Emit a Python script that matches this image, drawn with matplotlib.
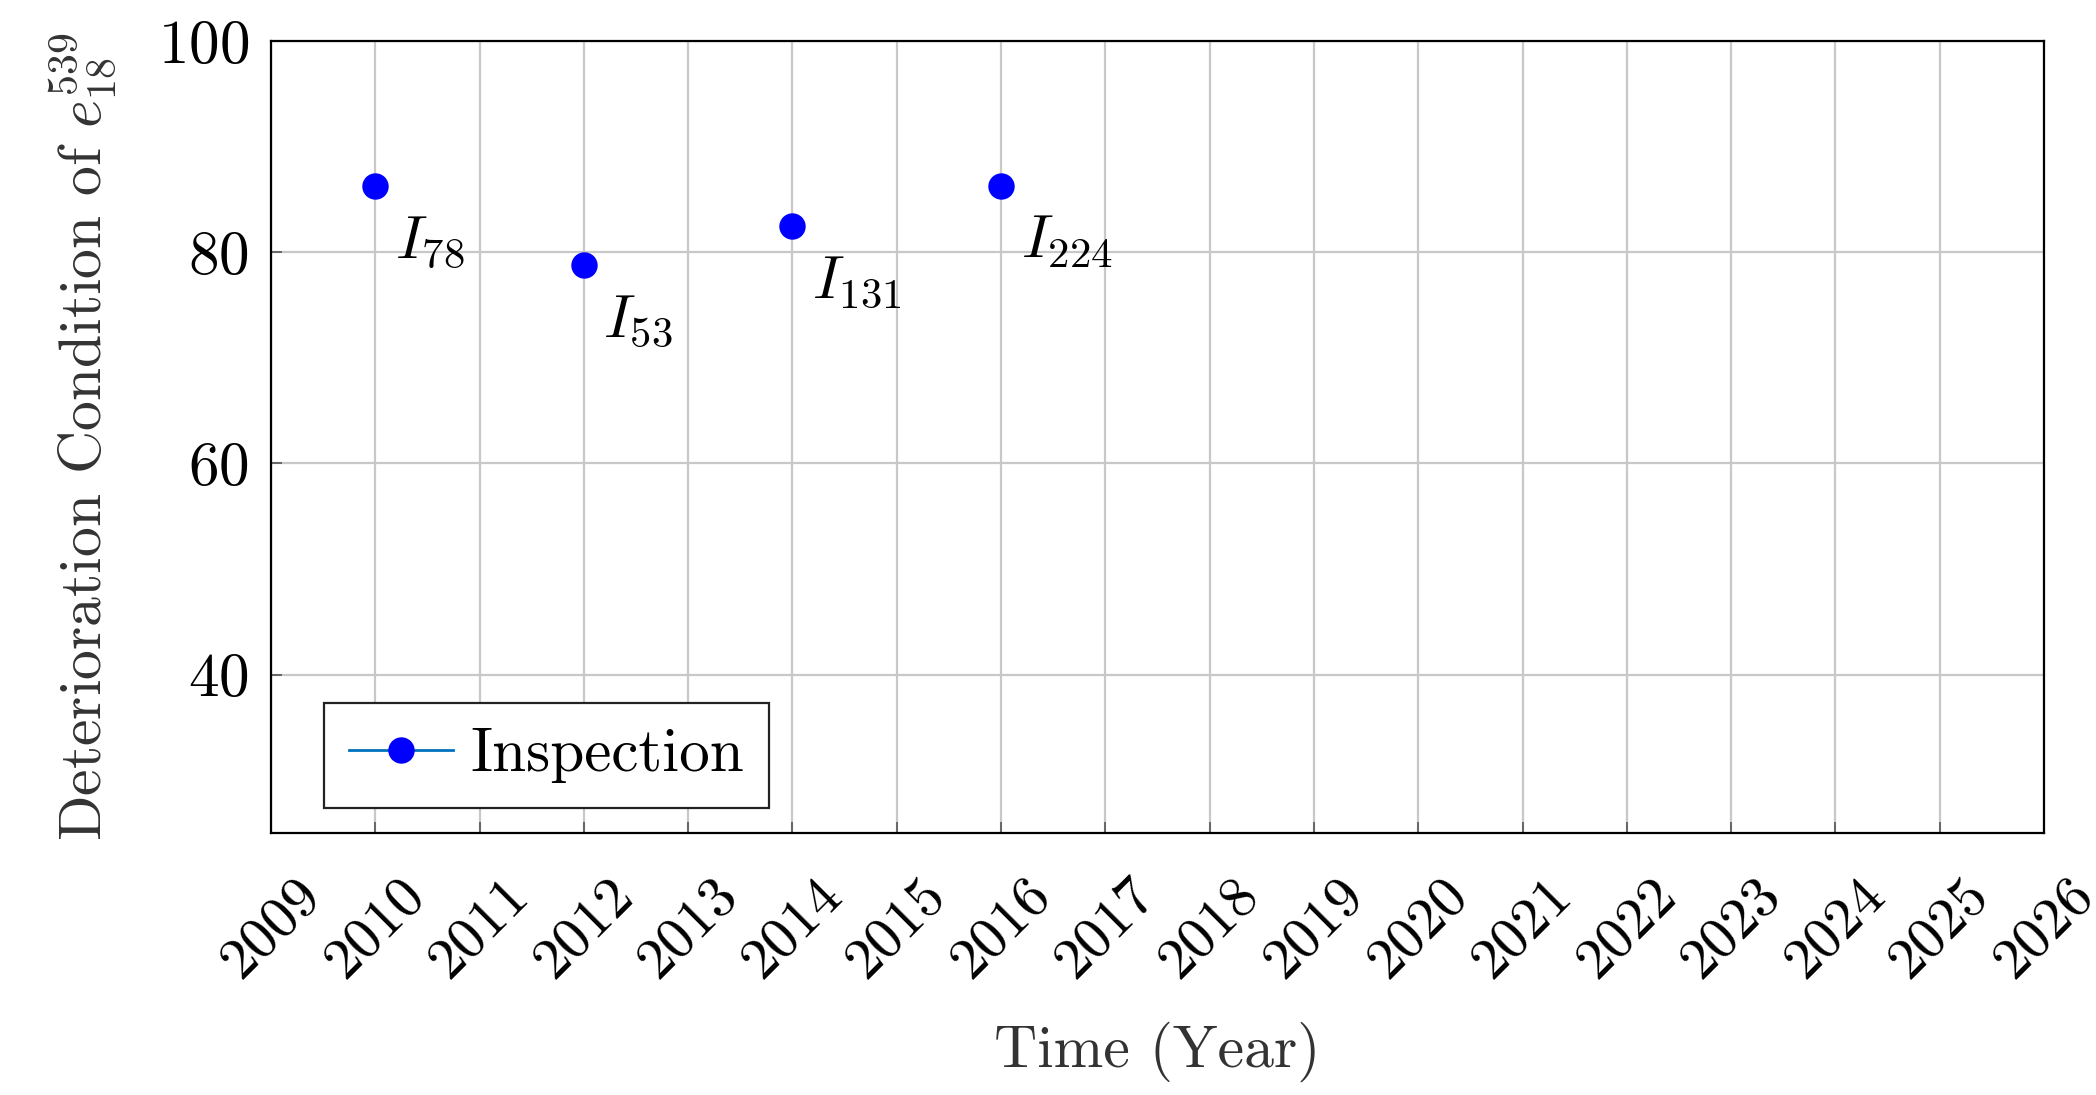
import matplotlib
matplotlib.use("Agg")
import matplotlib.pyplot as plt
from matplotlib.lines import Line2D

plt.rcParams["font.family"] = ["cmr10", "DejaVu Serif"]
plt.rcParams["mathtext.fontset"] = "cm"
plt.rcParams["axes.formatter.use_mathtext"] = True
plt.rcParams["axes.unicode_minus"] = False

# inspection data
years = [2010, 2012, 2014, 2016]
condition = [86.3, 78.8, 82.5, 86.3]
labels = [r"$I_{78}$", r"$I_{53}$", r"$I_{131}$", r"$I_{224}$"]
xticks = list(range(2009, 2027))
yticks = [40, 60, 80, 100]

fig = plt.figure(figsize=(10.48, 5.475), dpi=200)
ax = fig.add_axes([271 / 2096, 1 - 833 / 1095, (2044 - 271) / 2096, (833 - 41) / 1095])

ax.plot(years, condition, linestyle="none", marker="o", markersize=8.5,
        color="blue", zorder=3)
for x, y, lab in zip(years, condition, labels):
    ax.annotate(lab, (x, y), xytext=(7, -26), textcoords="offset points",
                ha="left", va="baseline", fontsize=22)

ax.set_xlim(2009, 2026)
ax.set_ylim(25, 100)
ax.set_xticks(xticks)
ax.set_xticklabels([str(t) for t in xticks], rotation=45, ha="center",
                   va="top", fontsize=21)
ax.set_yticks(yticks)
ax.tick_params(axis="y", labelsize=22, pad=8)
ax.tick_params(axis="x", pad=13)
ax.tick_params(direction="in", length=4, width=0.6, color="#555555")
ax.grid(True, color="#c8c8c8", linewidth=0.8)
ax.set_axisbelow(True)
for sp in ax.spines.values():
    sp.set_linewidth(0.8)

ax.set_xlabel("Time (Year)", fontsize=21.5, labelpad=12, color="#333333")
ax.set_ylabel(r"Deterioration Condition of $e_{18}^{539}$", fontsize=21.5,
              labelpad=14, color="#333333")

handle = Line2D([], [], color="#0072BD", linewidth=1, marker="o", markersize=8.5,
                markerfacecolor="blue", markeredgecolor="blue")
leg = ax.legend([handle], ["Inspection"], loc="lower left", fontsize=22,
                fancybox=False, edgecolor="#222222", framealpha=1,
                bbox_to_anchor=(0.030, 0.032), borderaxespad=0,
                borderpad=0.4, handlelength=1.7, handletextpad=0.3)
leg.get_frame().set_linewidth(0.8)

fig.savefig("out.png", dpi=200)
